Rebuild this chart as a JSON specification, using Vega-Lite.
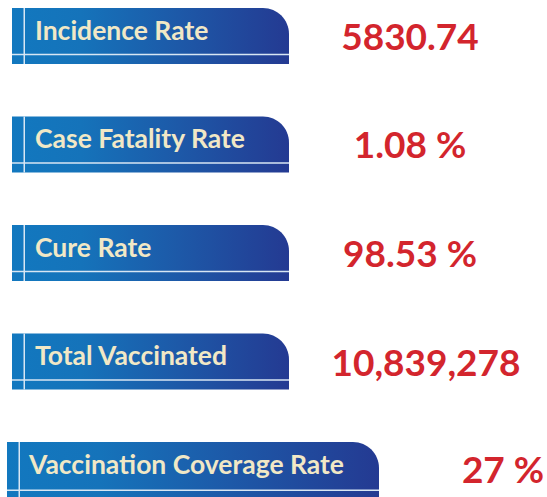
{
  "$schema": "https://vega.github.io/schema/vega-lite/v6.json",
  "width": 547,
  "height": 497,
  "autosize": "none",
  "padding": 0,
  "background": "#ffffff",
  "config": {"view": {"stroke": null}},
  "data": {"values": [
    {"metric": "Incidence Rate", "value": "5830.74"},
    {"metric": "Case Fatality Rate", "value": "1.08 %"},
    {"metric": "Cure Rate", "value": "98.53 %"},
    {"metric": "Total Vaccinated", "value": "10,839,278"},
    {"metric": "Vaccination Coverage Rate", "value": "27 %"}
  ]},
  "layer": [
    {
      "transform": [{"filter": "datum.metric != 'Vaccination Coverage Rate'"}],
      "mark": {"type": "rect", "cornerRadiusTopRight": 26, "fill": {"gradient": "linear", "stops": [{"offset": 0, "color": "#1278bf"}, {"offset": 0.25, "color": "#1573ba"}, {"offset": 0.6, "color": "#1d59a8"}, {"offset": 1, "color": "#243a92"}]}},
      "encoding": {
        "x": {"datum": 12, "type": "quantitative", "scale": {"domain": [0, 547], "nice": false, "zero": false}, "axis": null},
        "x2": {"datum": 289},
        "y": {"field": "metric", "type": "nominal", "sort": null, "axis": null, "scale": {"type": "band", "domain": ["Incidence Rate", "Case Fatality Rate", "Cure Rate", "Total Vaccinated", "Vaccination Coverage Rate"], "range": [8, 498], "paddingInner": 0.484, "paddingOuter": 0}}
      }
    },
    {
      "transform": [{"filter": "datum.metric == 'Vaccination Coverage Rate'"}],
      "mark": {"type": "rect", "cornerRadiusTopRight": 26, "fill": {"gradient": "linear", "stops": [{"offset": 0, "color": "#1278bf"}, {"offset": 0.25, "color": "#1573ba"}, {"offset": 0.6, "color": "#1d59a8"}, {"offset": 1, "color": "#243a92"}]}},
      "encoding": {
        "x": {"datum": 7, "type": "quantitative"},
        "x2": {"datum": 379},
        "y": {"field": "metric", "type": "nominal", "sort": null}
      }
    },
    {
      "transform": [{"filter": "datum.metric != 'Vaccination Coverage Rate'"}],
      "mark": {"type": "rect", "color": "#d8e6f3"},
      "encoding": {
        "x": {"datum": 23.5, "type": "quantitative"},
        "x2": {"datum": 25},
        "y": {"field": "metric", "type": "nominal", "sort": null}
      }
    },
    {
      "transform": [{"filter": "datum.metric == 'Vaccination Coverage Rate'"}],
      "mark": {"type": "rect", "color": "#d8e6f3"},
      "encoding": {
        "x": {"datum": 18.5, "type": "quantitative"},
        "x2": {"datum": 20},
        "y": {"field": "metric", "type": "nominal", "sort": null}
      }
    },
    {
      "transform": [{"filter": "datum.metric != 'Vaccination Coverage Rate'"}],
      "mark": {"type": "rule", "color": "#d8e6f3", "strokeWidth": 1.5},
      "encoding": {
        "x": {"datum": 12, "type": "quantitative"},
        "x2": {"datum": 289},
        "y": {"field": "metric", "type": "nominal", "sort": null, "bandPosition": 0.83}
      }
    },
    {
      "transform": [{"filter": "datum.metric == 'Vaccination Coverage Rate'"}],
      "mark": {"type": "rule", "color": "#d8e6f3", "strokeWidth": 1.5},
      "encoding": {
        "x": {"datum": 7, "type": "quantitative"},
        "x2": {"datum": 379},
        "y": {"field": "metric", "type": "nominal", "sort": null, "bandPosition": 0.86}
      }
    },
    {
      "transform": [{"filter": "datum.metric != 'Vaccination Coverage Rate'"}],
      "mark": {"type": "text", "align": "left", "baseline": "alphabetic", "font": "Lato", "fontWeight": "bold", "fontSize": 26.5, "color": "#f1e8c6"},
      "encoding": {
        "x": {"datum": 35, "type": "quantitative"},
        "y": {"field": "metric", "type": "nominal", "sort": null, "bandPosition": 0.57},
        "text": {"field": "metric"}
      }
    },
    {
      "transform": [{"filter": "datum.metric == 'Vaccination Coverage Rate'"}],
      "mark": {"type": "text", "align": "left", "baseline": "alphabetic", "font": "Lato", "fontWeight": "bold", "fontSize": 26.5, "color": "#f1e8c6"},
      "encoding": {
        "x": {"datum": 29, "type": "quantitative"},
        "y": {"field": "metric", "type": "nominal", "sort": null, "bandPosition": 0.57},
        "text": {"field": "metric"}
      }
    },
    {
      "transform": [{"filter": {"field": "metric", "oneOf": ["Incidence Rate", "Case Fatality Rate", "Cure Rate"]}}],
      "mark": {"type": "text", "align": "center", "baseline": "alphabetic", "font": "Lato", "fontWeight": "bold", "fontSize": 37, "color": "#d3252d"},
      "encoding": {
        "x": {"datum": 410, "type": "quantitative"},
        "y": {"field": "metric", "type": "nominal", "sort": null, "bandPosition": 0.75},
        "text": {"field": "value"}
      }
    },
    {
      "transform": [{"filter": "datum.metric == 'Total Vaccinated'"}],
      "mark": {"type": "text", "align": "center", "baseline": "alphabetic", "font": "Lato", "fontWeight": "bold", "fontSize": 37, "color": "#d3252d"},
      "encoding": {
        "x": {"datum": 426, "type": "quantitative"},
        "y": {"field": "metric", "type": "nominal", "sort": null, "bandPosition": 0.75},
        "text": {"field": "value"}
      }
    },
    {
      "transform": [{"filter": "datum.metric == 'Vaccination Coverage Rate'"}],
      "mark": {"type": "text", "align": "center", "baseline": "alphabetic", "font": "Lato", "fontWeight": "bold", "fontSize": 37, "color": "#d3252d"},
      "encoding": {
        "x": {"datum": 503, "type": "quantitative"},
        "y": {"field": "metric", "type": "nominal", "sort": null, "bandPosition": 0.74},
        "text": {"field": "value"}
      }
    }
  ]
}
